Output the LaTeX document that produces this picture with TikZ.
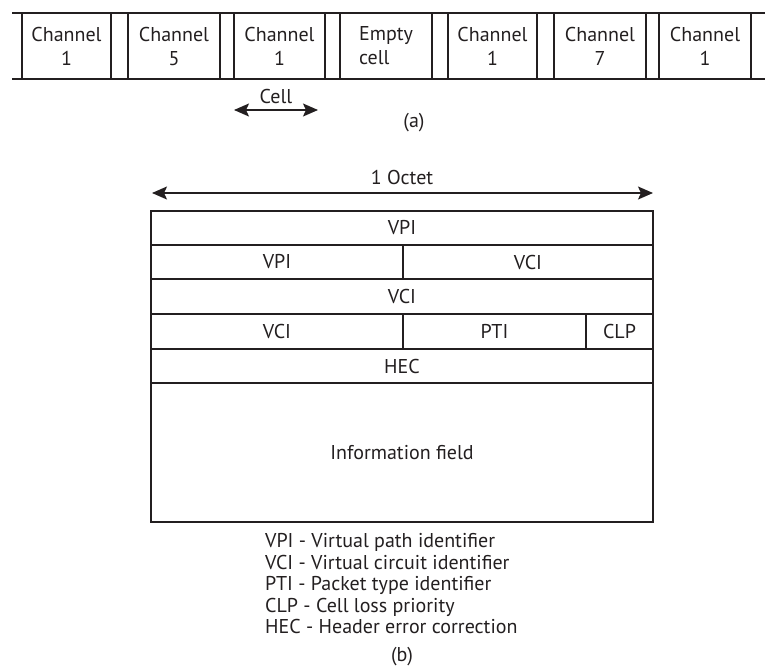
\documentclass[tikz,border=0pt]{standalone}
\usepackage{fontspec}
\setmainfont{PT Sans}
\usetikzlibrary{arrows.meta}
\definecolor{ink}{HTML}{231F20}
\begin{document}
\begin{tikzpicture}[x=1pt,y=-1pt,
  every node/.style={text=ink, font=\fontsize{20}{24}\selectfont, inner sep=0pt},
  chbox/.style={draw=ink, line width=1.5pt, minimum height=66pt, align=center},
  fbox/.style={draw=ink, line width=1.5pt},
  rule/.style={draw=ink, line width=1.5pt},
  dimarrow/.style={draw=ink, line width=1.5pt, {Stealth[length=15pt,width=13pt,inset=3pt]}-{Stealth[length=15pt,width=13pt,inset=3pt]}},
  legend/.style={anchor=base west}
]
\useasboundingbox (0,0) rectangle (765,670);
% ---- (a) cell stream ----
\coordinate (tl) at (12,13);
\coordinate (tr) at (765,13);
\coordinate (bl) at (12,79);
\coordinate (br) at (765,79);
\draw[rule] (tl) -- (tr);
\draw[rule] (bl) -- (br);
\node[chbox, minimum width=89pt] (c1) at (66.5,46) {Channel\\1};
\node[chbox, minimum width=92pt] (c2) at (174,46) {Channel\\5};
\node[chbox, minimum width=91pt] (c3) at (279.5,46) {Channel\\1};
\node[chbox, minimum width=92pt, align=left] (c4) at (386,46) {Empty\\cell};
\node[chbox, minimum width=89pt] (c5) at (492.5,46) {Channel\\1};
\node[chbox, minimum width=92pt] (c6) at (600,46) {Channel\\7};
\node[chbox, minimum width=92pt] (c7) at (705,46) {Channel\\1};
\coordinate (ca1) at (234,110);
\coordinate (ca2) at (318,110);
\draw[dimarrow] (ca1) -- (ca2);
\node (celllbl) at (276,96) {Cell};
\node (alabel) at (414,123) {(a)};
% ---- (b) ATM cell header ----
\coordinate (oa1) at (152,193);
\coordinate (oa2) at (653,193);
\draw[dimarrow] (oa1) -- (oa2);
\node (octet) at (402,177) {1 Octet};
\node[fbox, minimum width=502pt, minimum height=34pt] (r1) at (402,228) {VPI};
\node[fbox, minimum width=252pt, minimum height=34pt] (r2a) at (277,262) {VPI};
\node[fbox, minimum width=250pt, minimum height=34pt] (r2b) at (528,262) {VCI};
\node[fbox, minimum width=502pt, minimum height=35pt] (r3) at (402,296.5) {VCI};
\node[fbox, minimum width=252pt, minimum height=35pt] (r4a) at (277,331.5) {VCI};
\node[fbox, minimum width=183pt, minimum height=35pt] (r4b) at (494.5,331.5) {PTI};
\node[fbox, minimum width=67pt, minimum height=35pt] (r4c) at (619.5,331.5) {CLP};
\node[fbox, minimum width=502pt, minimum height=34pt] (r5) at (402,366) {HEC};
\node[fbox, minimum width=502pt, minimum height=139pt] (r6) at (402,452.5) {Information field};
% ---- legend ----
\node[legend] (l1) at (265,547.5) {VPI - Virtual path identifier};
\node[legend] (l2) at (265,569) {VCI - Virtual circuit identifier};
\node[legend] (l3) at (265,590.5) {PTI - Packet type identifier};
\node[legend] (l4) at (265,612) {CLP - Cell loss priority};
\node[legend] (l5) at (265,633.5) {HEC - Header error correction};
\node (blabel) at (402,657) {(b)};
\end{tikzpicture}
\end{document}
